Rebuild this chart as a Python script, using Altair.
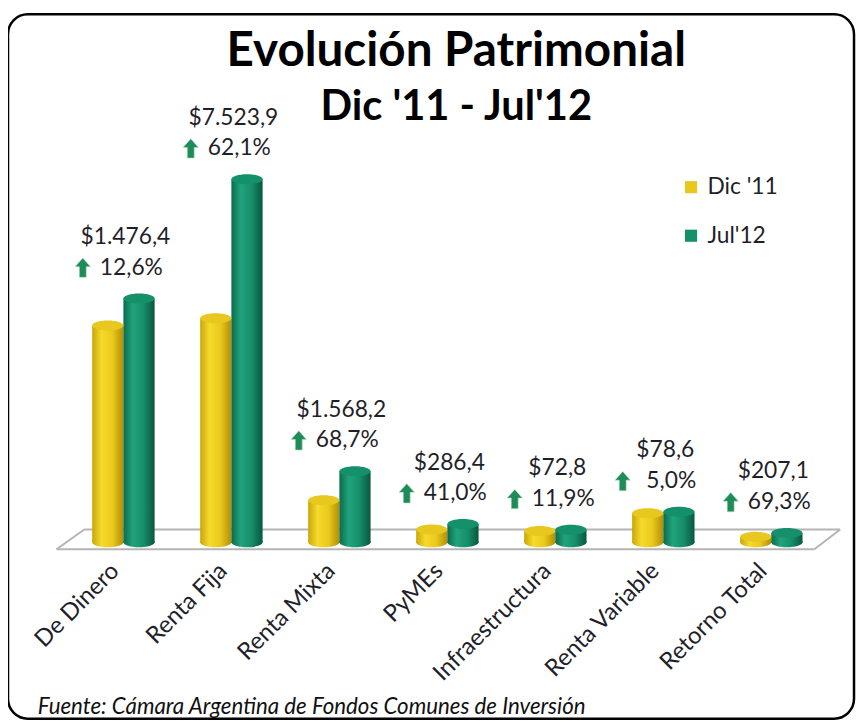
import altair as alt
import pandas as pd

# ---------------- data ----------------
categories = ["De Dinero", "Renta Fija", "Renta Mixta", "PyMEs",
              "Infraestructura", "Renta Variable", "Retorno Total"]
series = ["Dic '11", "Jul'12"]
dic_11 = [11720, 12120, 2280, 700, 610, 1570, 300]
jul_12 = [13190, 19640, 3850, 990, 680, 1650, 510]
gain_labels = ["$1.476,4", "$7.523,9", "$1.568,2", "$286,4", "$72,8", "$78,6", "$207,1"]
pct_labels = ["12,6%", "62,1%", "68,7%", "41,0%", "11,9%", "5,0%", "69,3%"]
title_text = "Evolución Patrimonial"
subtitle_text = "Dic '11 - Jul'12"
source_text = "Fuente:  Cámara Argentina de Fondos Comunes de Inversión"

long_df = pd.DataFrame({
    "cat": categories * 2,
    "serie": [series[0]] * len(categories) + [series[1]] * len(categories),
    "valor": dic_11 + jul_12,
})
long_df["cero"] = 0
wide_df = pd.DataFrame({"cat": categories, "dic": dic_11, "jul": jul_12,
                        "gain": gain_labels, "pct": pct_labels})
one = pd.DataFrame({"k": [0]})

# ---------------- styling ----------------
FONT = "Lato"
TXT = "#1f1f2a"
ELLIPSE = "M-1,0A1,0.32,0,1,1,1,0A1,0.32,0,1,1,-1,0Z"
ARROW = "M0,-1L0.8,-0.1L0.36,-0.1L0.36,1L-0.36,1L-0.36,-0.1L-0.8,-0.1Z"
CAP_SIZE = 31.5 ** 2

def grad(stops):
    return alt.LinearGradient(
        gradient="linear", x1=0, x2=1, y1=0, y2=0,
        stops=[alt.GradientStop(color=c, offset=o) for o, c in stops])

yellow_grad = grad([(0, "#C9A608"), (0.3, "#F6DA2C"), (0.65, "#EAC91C"), (1, "#B18E04")])
green_grad = grad([(0, "#0C6A4D"), (0.3, "#20A47D"), (0.65, "#168E6A"), (1, "#09573F")])
cap_colors = ["#E8C71E", "#14906B"]

x_scale = alt.Scale(domain=categories, paddingInner=0.422, paddingOuter=0.211)
y_scale = alt.Scale(domain=[0, 21000], nice=False, zero=True)
off_scale = alt.Scale(domain=series, paddingInner=0, paddingOuter=0)

x_enc = alt.X("cat:N", scale=x_scale, sort=categories,
              axis=alt.Axis(title=None, labelAngle=-45, labelAlign="right",
                            labelBaseline="middle", labelFont=FONT,
                            labelFontSize=24, labelColor=TXT, labelPadding=25,
                            labelOffset=-8,
                            domain=False, ticks=False, grid=False))
xo_enc = alt.XOffset("serie:N", scale=off_scale)

# ---------------- decoration: frame and floor ----------------
frame = alt.Chart(one).mark_rect(
    cornerRadius=20, fillOpacity=0, stroke="black", strokeWidth=2.5
).encode(x=alt.value(-62), x2=alt.value(792), y=alt.value(-141), y2=alt.value(570))

floor_style = dict(color="#B4B4B4", strokeWidth=2)
floor_back = alt.Chart(one).mark_rule(**floor_style).encode(
    x=alt.value(15), x2=alt.value(778), y=alt.value(379), y2=alt.value(379))
floor_front = alt.Chart(one).mark_rule(**floor_style).encode(
    x=alt.value(-13), x2=alt.value(752), y=alt.value(399), y2=alt.value(399))
floor_left = alt.Chart(one).mark_rule(**floor_style).encode(
    x=alt.value(-13), x2=alt.value(15), y=alt.value(399), y2=alt.value(379))
floor_right = alt.Chart(one).mark_rule(**floor_style).encode(
    x=alt.value(752), x2=alt.value(778), y=alt.value(399), y2=alt.value(379))

# ---------------- cylinders ----------------
def bottoms(name, g):
    return alt.Chart(long_df).transform_filter(alt.datum.serie == name).mark_point(
        shape=ELLIPSE, size=CAP_SIZE, filled=True, color=g, opacity=1, strokeWidth=0
    ).encode(x=x_enc, xOffset=xo_enc, y=alt.Y("cero:Q", scale=y_scale, axis=None))

def bars(name, g):
    return alt.Chart(long_df).transform_filter(alt.datum.serie == name).mark_bar(
        color=g
    ).encode(x=x_enc, xOffset=xo_enc, y=alt.Y("valor:Q", scale=y_scale, axis=None))

caps = alt.Chart(long_df).mark_point(
    shape=ELLIPSE, size=CAP_SIZE, filled=True, opacity=1, strokeWidth=0
).encode(
    x=x_enc, xOffset=xo_enc,
    y=alt.Y("valor:Q", scale=y_scale, axis=None),
    color=alt.Color("serie:N", scale=alt.Scale(domain=series, range=cap_colors),
                    legend=alt.Legend(title=None, orient="none", legendX=616, legendY=22,
                                      symbolType="square", symbolSize=150,
                                      symbolStrokeWidth=0, symbolOpacity=1,
                                      labelFont=FONT, labelFontSize=23, labelColor=TXT,
                                      rowPadding=25, labelOffset=5)),
)

# ---------------- annotations ----------------
gain_text = alt.Chart(wide_df).mark_text(
    font=FONT, fontSize=23, color=TXT, dx=2, dy=-62
).encode(x=x_enc, y=alt.Y("jul:Q", scale=y_scale, axis=None), text="gain:N")

pct_text = alt.Chart(wide_df).mark_text(
    font=FONT, fontSize=23, color=TXT, dx=8, dy=-31
).encode(x=x_enc, y=alt.Y("jul:Q", scale=y_scale, axis=None), text="pct:N")

arrows = alt.Chart(wide_df).mark_point(
    shape=ARROW, size=380, filled=True, color="#1E8C5A", opacity=1,
    stroke="#BFE3C0", strokeWidth=0.6, xOffset=-41, yOffset=-31
).encode(x=x_enc, y=alt.Y("jul:Q", scale=y_scale, axis=None))

source = alt.Chart(one).mark_text(
    font=FONT, fontSize=22.5, fontStyle="italic", align="left", baseline="middle", color="#111"
).encode(x=alt.value(-32), y=alt.value(558), text=alt.value(source_text))

chart = alt.layer(
    frame, floor_back, floor_left, floor_right,
    bottoms(series[0], yellow_grad), bottoms(series[1], green_grad),
    bars(series[0], yellow_grad), bars(series[1], green_grad),
    caps, floor_front, arrows, gain_text, pct_text, source,
).properties(
    width=763, height=392,
    title=alt.TitleParams(text=title_text, subtitle=subtitle_text, font=FONT,
                          fontSize=48, fontWeight="bold", color="black",
                          subtitleFont=FONT, subtitleFontSize=42,
                          subtitleFontWeight="bold", subtitleColor="black",
                          anchor="middle", frame="group", dx=9, offset=-116,
                          subtitlePadding=12),
    autosize=alt.AutoSizeParams(type="none"),
    padding={"left": 62, "top": 144, "right": 31, "bottom": 179},
    background="white",
).configure_view(strokeWidth=0)

chart.save("out.html", embed_options={"renderer": "svg", "actions": False})
